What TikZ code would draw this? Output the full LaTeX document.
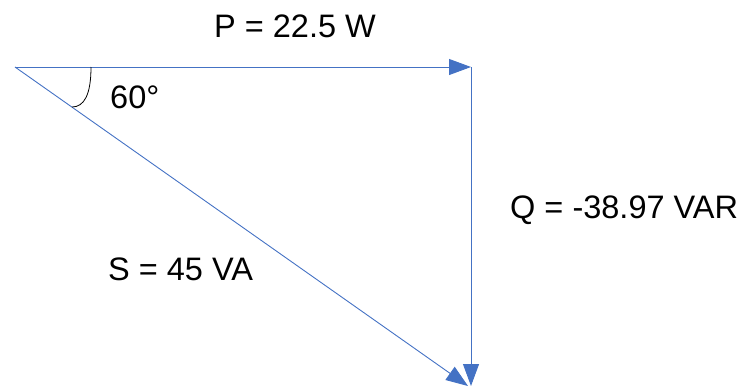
\documentclass[tikz,border=0pt]{standalone}
\usepackage{fontspec}
\setmainfont{Liberation Sans}
\usetikzlibrary{arrows.meta}
\definecolor{vecblue}{HTML}{4472C4}
\tikzset{
  vec/.style={draw=vecblue, line width=0.9pt, -{Triangle[length=22pt,width=16pt]}, shorten >=0pt},
  lbl/.style={anchor=base west, inner sep=0pt, font=\fontsize{32.5}{32.5}\selectfont}
}
\begin{document}
\begin{tikzpicture}[x=1pt,y=-1pt]
\useasboundingbox (0,0) rectangle (739,389);
\coordinate (O) at (15,67);
\coordinate (Pt) at (471,67);
\coordinate (Qt) at (471,386);
\coordinate (St) at (468,386);
\coordinate (A1) at (91,67);
\coordinate (A2) at (72,107);
\draw[vec] (O) -- (Pt);
\draw[vec] (Pt) -- (Qt);
\draw[vec] (O) -- (St);
\draw[black, line width=0.8pt] (A1) .. controls (91,95) and (84,107) .. (A2);
\node[lbl] (p) at (214,37) {P = 22.5 W};
\node[lbl] (q) at (510,218) {Q = -38.97 VAR};
\node[lbl] (s) at (108,280) {S = 45 VA};
\node[lbl] (a) at (110,108) {60°};
\end{tikzpicture}
\end{document}
